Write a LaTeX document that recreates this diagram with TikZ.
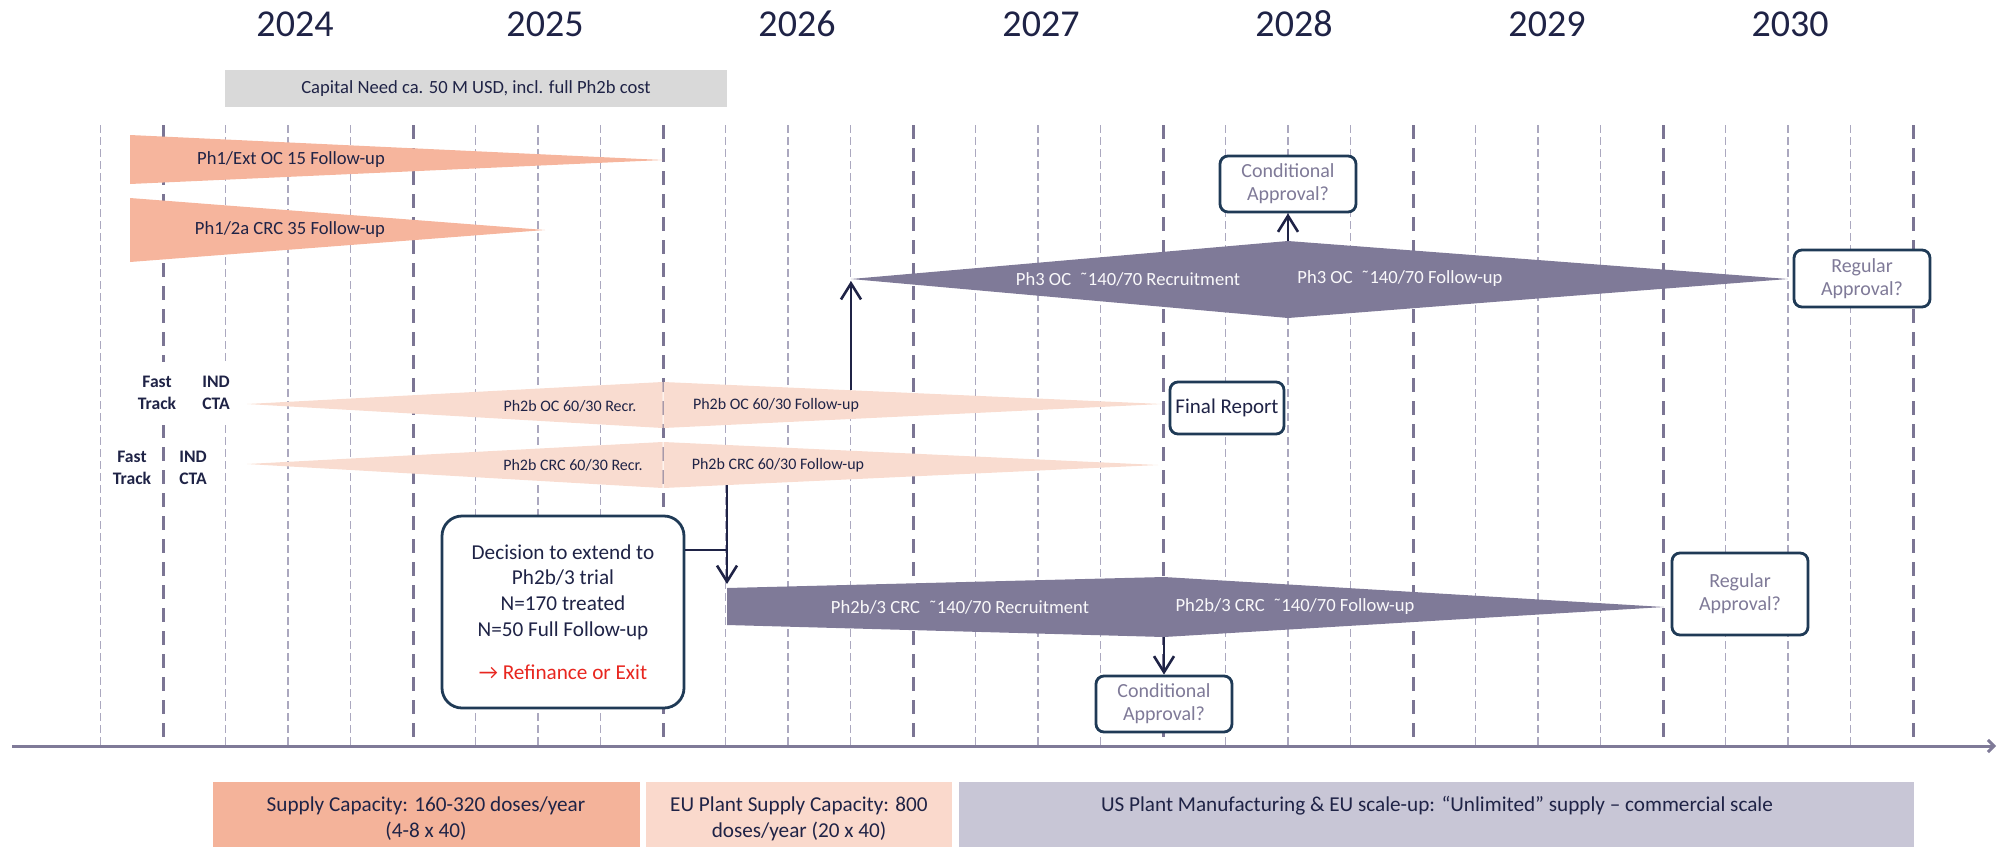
\documentclass[tikz,border=0pt]{standalone}
\usepackage{fontspec}
\setmainfont{Carlito}
\usetikzlibrary{arrows.meta}

\definecolor{navy}{HTML}{1F2346}
\definecolor{boxline}{HTML}{1F3A56}
\definecolor{mauve}{HTML}{7F7A98}
\definecolor{gridmajorcol}{HTML}{7B7594}
\definecolor{gridminorcol}{HTML}{ABA8BF}
\definecolor{salmon}{HTML}{F6B59D}
\definecolor{peach}{HTML}{F9DCD0}
\definecolor{capgray}{HTML}{D9D9D9}
\definecolor{supplycol}{HTML}{F4B39A}
\definecolor{eucol}{HTML}{FAD9CC}
\definecolor{uscol}{HTML}{C8C6D6}
\definecolor{exitred}{HTML}{E8261F}

\newcommand{\circa}{\char"02DC\relax}

\tikzset{
    yearlabel/.style={text=navy, font=\fontsize{19}{22}\selectfont},
    gridmajor/.style={draw=gridmajorcol, line width=1.5pt, dash pattern=on 7pt off 4.5pt},
    gridminor/.style={draw=gridminorcol, line width=0.6pt, dash pattern=on 4pt off 2pt},
    phaselabel/.style={text=navy, font=\fontsize{9.3}{11}\selectfont},
    smalllabel/.style={text=navy, font=\fontsize{8}{10}\selectfont},
    darklabel/.style={text=white!95!mauve, font=\fontsize{9.3}{11}\selectfont},
    tracklabel/.style={text=navy, align=center, font=\bfseries\fontsize{8.8}{10.8}\selectfont},
    approvebox/.style={draw=boxline, line width=1.4pt, rounded corners=4pt, fill=white,
        align=center, text=mauve, inner sep=0pt, minimum width=68pt,
        font=\fontsize{10}{11.5}\selectfont},
    supplybox/.style={inner sep=0pt, align=center, text=navy, font=\fontsize{10.6}{13}\selectfont},
    arr/.style={draw=navy, line width=1.3pt, -{Straight Barb[length=8pt,width=10pt]}},
    link/.style={draw=navy, line width=1.3pt},
}

\begin{document}
\begin{tikzpicture}[x=0.5pt, y=-0.5pt]
    \useasboundingbox (0,0) rectangle (1997,847);

    % years
    \node[yearlabel] (yr2024) at (295,24) {2024};
    \node[yearlabel] (yr2025) at (545,24) {2025};
    \node[yearlabel] (yr2026) at (797,24) {2026};
    \node[yearlabel] (yr2027) at (1041,24) {2027};
    \node[yearlabel] (yr2028) at (1294,24) {2028};
    \node[yearlabel] (yr2029) at (1547,24) {2029};
    \node[yearlabel] (yr2030) at (1790,24) {2030};

    % funding bar
    \fill[capgray] (225,70) rectangle (727,107);
    \node[phaselabel] (capital) at (476,89) {Capital Need ca. 50 M USD, incl. full Ph2b cost};

    % quarter lines
    \draw[gridminor] (100.5,125) -- (100.5,746);
    \draw[gridmajor] (163,125) -- (163,746);
    \draw[gridminor] (225.5,125) -- (225.5,746);
    \draw[gridminor] (288,125) -- (288,746);
    \draw[gridminor] (350.5,125) -- (350.5,746);
    \draw[gridmajor] (413,125) -- (413,746);
    \draw[gridminor] (475.5,125) -- (475.5,746);
    \draw[gridminor] (538,125) -- (538,746);
    \draw[gridminor] (600.5,125) -- (600.5,746);
    \draw[gridmajor] (663,125) -- (663,746);
    \draw[gridminor] (725.5,125) -- (725.5,746);
    \draw[gridminor] (788,125) -- (788,746);
    \draw[gridminor] (850.5,125) -- (850.5,746);
    \draw[gridmajor] (913,125) -- (913,746);
    \draw[gridminor] (975.5,125) -- (975.5,746);
    \draw[gridminor] (1038,125) -- (1038,746);
    \draw[gridminor] (1100.5,125) -- (1100.5,746);
    \draw[gridmajor] (1163,125) -- (1163,746);
    \draw[gridminor] (1225.5,125) -- (1225.5,746);
    \draw[gridminor] (1288,125) -- (1288,746);
    \draw[gridminor] (1350.5,125) -- (1350.5,746);
    \draw[gridmajor] (1413,125) -- (1413,746);
    \draw[gridminor] (1475.5,125) -- (1475.5,746);
    \draw[gridminor] (1538,125) -- (1538,746);
    \draw[gridminor] (1600.5,125) -- (1600.5,746);
    \draw[gridmajor] (1663,125) -- (1663,746);
    \draw[gridminor] (1725.5,125) -- (1725.5,746);
    \draw[gridminor] (1788,125) -- (1788,746);
    \draw[gridminor] (1850.5,125) -- (1850.5,746);
    \draw[gridmajor] (1913,125) -- (1913,746);

    % time axis
    \draw[draw=mauve, line width=1.5pt, -{Straight Barb[length=3pt,width=6pt]}] (12,746) -- (1996,746);

    % phase 1 follow-up
    \fill[salmon] (130,135) -- (663,160) -- (130,184) -- cycle;
    \node[phaselabel] (ph1oc) at (291,160) {Ph1/Ext OC 15 Follow-up};
    \fill[salmon] (130,198) -- (545,230) -- (130,262) -- cycle;
    \node[phaselabel] (ph1crc) at (290,230) {Ph1/2a CRC 35 Follow-up};

    % phase 2b
    \fill[peach] (247,404) -- (662.5,382) -- (662.5,428) -- cycle;
    \fill[peach] (663.5,382) -- (1162,404) -- (663.5,428) -- cycle;
    \node[smalllabel] (ocrecr) at (570,406) {Ph2b OC 60/30 Recr.};
    \node[smalllabel] (ocfup) at (776,405) {Ph2b OC 60/30 Follow-up};
    \fill[peach] (247,464) -- (662.5,442) -- (662.5,488) -- cycle;
    \fill[peach] (663.5,442) -- (1158,465) -- (663.5,488) -- cycle;
    \node[smalllabel] (crcrecr) at (573,465) {Ph2b CRC 60/30 Recr.};
    \node[smalllabel] (crcfup) at (778,465) {Ph2b CRC 60/30 Follow-up};

    \fill[white] (135,362) rectangle (237,425);
    \node[tracklabel] (fast1) at (157,393) {Fast\\Track};
    \node[tracklabel] (ind1) at (216,393) {IND\\CTA};
    \node[tracklabel] (fast2) at (132,468) {Fast\\Track};
    \node[tracklabel] (ind2) at (193,468) {IND\\CTA};

    % phase 3 OC
    \fill[mauve] (851,279) -- (1288,241) -- (1788,279) -- (1288,318) -- cycle;
    \node[darklabel] (ph3recr) at (1128,279) {Ph3 OC\ \ \circa140/70 Recruitment};
    \node[darklabel] (ph3fup) at (1400,279) {Ph3 OC\ \ \circa140/70 Follow-up};

    % phase 2b/3 CRC
    \fill[mauve] (727,588) -- (1164,577) -- (1664,607) -- (1164,637) -- (727,625) -- cycle;
    \node[darklabel] (ph23recr) at (960,607) {Ph2b/3 CRC\ \ \circa140/70 Recruitment};
    \node[darklabel] (ph23fup) at (1295,607) {Ph2b/3 CRC\ \ \circa140/70 Follow-up};

    % milestones
    \node[approvebox, minimum height=28pt] (condtop) at (1288,184) {Conditional\\Approval?};
    \node[approvebox, minimum height=28.5pt] (regtop) at (1862,278.5) {Regular\\Approval?};
    \node[approvebox, minimum width=57pt, minimum height=26pt, text=navy,
        font=\fontsize{10.5}{12}\selectfont] (final) at (1227,408) {Final Report};
    \node[approvebox, minimum height=28pt] (condlow) at (1164,704) {Conditional\\Approval?};
    \node[approvebox, minimum height=41pt] (reglow) at (1740,594) {Regular\\Approval?};

    \node[draw=boxline, line width=1.4pt, rounded corners=10pt, fill=white, align=center,
        text=navy, inner sep=0pt, minimum width=121pt, minimum height=96pt,
        font=\fontsize{10.6}{12.8}\selectfont] (decision) at (563,612)
        {Decision to extend to\\Ph2b/3 trial\\N=170 treated\\N=50 Full Follow-up\\[8.7pt]
        \textcolor{exitred}{→ Refinance or Exit}};

    % connectors
    \coordinate (ocedge) at (851,390);
    \coordinate (ph3tip) at (851,281);
    \coordinate (ph3top) at (1288,241);
    \coordinate (crcedge) at (727,485);
    \coordinate (ph23corner) at (727,584);
    \coordinate (ph23bot) at (1164,637);
    \coordinate (decjoin) at (727,550);
    \draw[arr] (ocedge) -- (ph3tip);
    \draw[arr] (ph3top) -- (condtop.south);
    \draw[arr] (crcedge) -- (ph23corner);
    \draw[link] (decision.east |- decjoin) -- (decjoin);
    \draw[arr] (ph23bot) -- (condlow.north);

    % supply capacity
    \fill[supplycol] (213,782) rectangle (640,847);
    \node[supplybox] (supply) at (426,819) {Supply Capacity: 160-320 doses/year\\(4-8 x 40)};
    \fill[eucol] (646,782) rectangle (952,847);
    \node[supplybox] (euplant) at (799,819) {EU Plant Supply Capacity: 800\\doses/year (20 x 40)};
    \fill[uscol] (959,782) rectangle (1914,847);
    \node[supplybox] (usplant) at (1437,806) {US Plant Manufacturing \& EU scale-up: “Unlimited” supply – commercial scale};
\end{tikzpicture}
\end{document}
